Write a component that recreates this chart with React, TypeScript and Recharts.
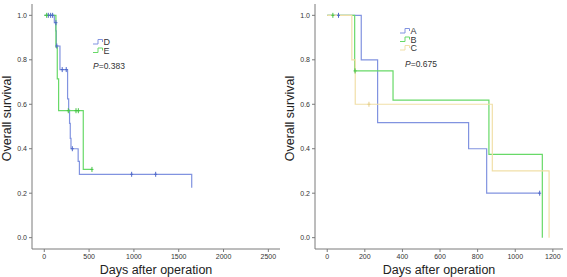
import React from 'react';
import { ComposedChart, Line, Scatter, XAxis, YAxis, Label, Legend } from 'recharts';

// left panel: groups D / E
const dTimes = [0, 112, 128, 135, 175, 260, 272, 282, 290, 298, 378, 392, 1645];
const dSurv = [1.0, 0.967, 0.93, 0.862, 0.756, 0.624, 0.574, 0.514, 0.447, 0.4, 0.343, 0.285, 0.225];
const dCensorT = [45, 71, 93, 130, 140, 200, 245, 313, 975, 1243];
const dCensorS = [1.0, 1.0, 1.0, 0.967, 0.862, 0.756, 0.756, 0.4, 0.285, 0.285];

const eTimes = [0, 130, 145, 160, 435, 532];
const eSurv = [1.0, 0.857, 0.714, 0.571, 0.307, 0.307];
const eCensorT = [27, 268, 354, 380, 532];
const eCensorS = [1.0, 0.571, 0.571, 0.571, 0.307];

// right panel: groups A / B / C
const aTimes = [0, 181, 268, 752, 848, 1130];
const aSurv = [1.0, 0.8, 0.517, 0.4, 0.2, 0.2];
const aCensorT = [60, 1130];
const aCensorS = [1.0, 0.2];

const bTimes = [0, 146, 350, 860, 1144];
const bSurv = [1.0, 0.75, 0.619, 0.375, 0.0];
const bCensorT = [30, 148];
const bCensorS = [1.0, 0.75];

const cTimes = [0, 131, 149, 878, 1180];
const cSurv = [1.0, 0.8, 0.6, 0.3, 0.0];
const cCensorT = [222];
const cCensorS = [0.6];

const leftXTicks = [0, 500, 1000, 1500, 2000, 2500];
const rightXTicks = [0, 200, 400, 600, 800, 1000, 1200];
const yTicks = [0, 0.2, 0.4, 0.6, 0.8, 1.0];

const BLUE = '#8193e0';
const BLUE_MARK = '#4f68c9';
const GREEN = '#68d968';
const YELLOW = '#f1dfa8';
const FRAME = '#7a7a7a';
const FONT = '"Liberation Sans", Arial, sans-serif';

const zip = (t: number[], s: number[]) => t.map((v, i) => ({ t: v, s: s[i] }));

interface Group {
  name: string;
  color: string;
  mark: string;
  times: number[];
  surv: number[];
  censorT: number[];
  censorS: number[];
}

const CensorMark = (color: string) => (props: any) => {
  const { cx, cy } = props;
  if (cx == null || cy == null) return <g />;
  return (
    <g stroke={color} strokeWidth={1}>
      <line x1={cx} y1={cy - 2.5} x2={cx} y2={cy + 2.5} />
      <line x1={cx - 1.5} y1={cy} x2={cx + 1.5} y2={cy} />
    </g>
  );
};

interface PanelProps {
  groups: Group[];
  xTicks: number[];
  xDomain: [number, number];
  width: number;
  legendLeft: number;
  legendTop: number;
  pValue: string;
}

const Panel: React.FC<PanelProps> = ({ groups, xTicks, xDomain, width, legendLeft, legendTop, pValue }) => {
  const legendContent = () => (
    <svg width={60} height={groups.length * 8.5 + 24} style={{ overflow: 'visible' }}>
      {groups.map((g, i) => (
        <g key={g.name} transform={`translate(0, ${i * 8.5})`}>
          <path d="M0,6 H5 V1.5 H9.5 V4" fill="none" stroke={g.color} strokeWidth={1} />
          <text x={10.5} y={7} fontSize={9} fill="#333" fontFamily={FONT}>{g.name}</text>
        </g>
      ))}
      <text x={groups.length === 2 ? 0 : 5} y={groups.length * 8.5 + 14} fontSize={8.5} fill="#333" fontFamily={FONT}>
        <tspan fontStyle="italic">P</tspan>={pValue}
      </text>
    </svg>
  );

  return (
    <ComposedChart width={width} height={277} margin={{ top: 4, right: width - 280, bottom: 0, left: 0 }}>
      <XAxis
        dataKey="t"
        type="number"
        domain={xDomain}
        ticks={xTicks}
        allowDataOverflow
        height={28}
        tickSize={3}
        stroke={FRAME}
        tick={{ fontSize: 7, fill: '#333', fontFamily: FONT }}
      >
        <Label value="Days after operation" position="center" dy={7} style={{ fontSize: 12.5, fill: '#222', fontFamily: FONT }} />
      </XAxis>
      <YAxis
        dataKey="s"
        type="number"
        domain={[-0.051, 1.051]}
        ticks={yTicks}
        allowDataOverflow
        width={32}
        tickSize={3}
        stroke={FRAME}
        tickFormatter={(v: number) => v.toFixed(1)}
        tick={{ fontSize: 7, fill: '#333', fontFamily: FONT }}
      >
        <Label value="Overall survival" angle={-90} position="center" dx={-9} dy={-8} style={{ fontSize: 12.5, fill: '#222', fontFamily: FONT }} />
      </YAxis>
      <XAxis xAxisId="top" orientation="top" type="number" domain={[0, 1]} height={0} tick={false} tickLine={false} stroke={FRAME} />
      <YAxis yAxisId="right" orientation="right" type="number" domain={[0, 1]} width={0} tick={false} tickLine={false} stroke={FRAME} />
      {groups.map((g) => (
        <Line
          key={`line-${g.name}`}
          data={zip(g.times, g.surv)}
          dataKey="s"
          type="stepAfter"
          stroke={g.color}
          strokeWidth={1.2}
          dot={false}
          activeDot={false}
          isAnimationActive={false}
        />
      ))}
      {groups.map((g) => (
        <Scatter
          key={`cens-${g.name}`}
          data={zip(g.censorT, g.censorS)}
          dataKey="s"
          shape={CensorMark(g.mark)}
          isAnimationActive={false}
        />
      ))}
      <Legend
        layout="horizontal"
        verticalAlign="middle"
        content={legendContent}
        wrapperStyle={{ left: legendLeft, top: legendTop, width: 70, height: 50 }}
      />
    </ComposedChart>
  );
};

const leftGroups: Group[] = [
  { name: 'D', color: BLUE, mark: BLUE_MARK, times: dTimes, surv: dSurv, censorT: dCensorT, censorS: dCensorS },
  { name: 'E', color: GREEN, mark: '#45c445', times: eTimes, surv: eSurv, censorT: eCensorT, censorS: eCensorS },
];

const rightGroups: Group[] = [
  { name: 'A', color: BLUE, mark: BLUE_MARK, times: aTimes, surv: aSurv, censorT: aCensorT, censorS: aCensorS },
  { name: 'B', color: GREEN, mark: '#45c445', times: bTimes, surv: bSurv, censorT: bCensorT, censorS: bCensorS },
  { name: 'C', color: YELLOW, mark: '#e6cf8c', times: cTimes, surv: cSurv, censorT: cCensorT, censorS: cCensorS },
];

const App: React.FC = () => (
  <div style={{ position: 'absolute', left: 0, top: 0, width: 567, height: 277, background: '#fff', display: 'flex' }}>
    <Panel
      groups={leftGroups}
      xTicks={leftXTicks}
      xDomain={[-137, 2630]}
      width={283}
      legendLeft={93}
      legendTop={38}
      pValue="0.383"
    />
    <Panel
      groups={rightGroups}
      xTicks={rightXTicks}
      xDomain={[-65, 1254]}
      width={284}
      legendLeft={117}
      legendTop={27}
      pValue="0.675"
    />
  </div>
);

export default App;
